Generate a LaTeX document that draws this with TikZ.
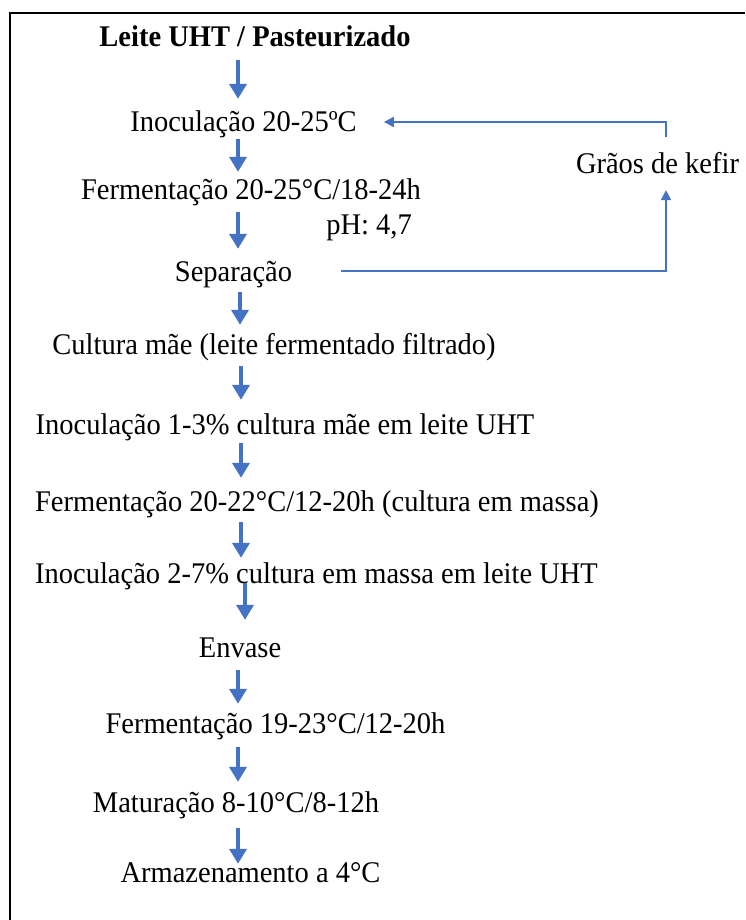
\documentclass[tikz,border=0pt]{standalone}
\usepackage{fontspec}
\setmainfont{Liberation Serif}[FakeStretch=0.95]
\usetikzlibrary{arrows.meta}
\definecolor{flowblue}{HTML}{4472C4}
\tikzset{
  stage/.style={inner sep=0pt,text height=20pt,text depth=0pt,font=\fontsize{30}{36}\selectfont},
  flow/.style={draw=flowblue,line width=4pt,-{Triangle[length=15pt,width=17pt]}},
  back/.style={draw=flowblue,line width=2pt,-{Triangle[length=10pt,width=10pt]}}
}

\begin{document}
\begin{tikzpicture}[x=1pt,y=-1pt]
  \useasboundingbox (0,0) rectangle (745,920);
  \draw[line width=2.5pt] (10,920) |- (745,13);

  % main line
  \node[stage] (milk) at (255,37) {\bfseries Leite UHT / Pasteurizado};
  \node[stage] (inoc1) at (243.5,122) {Inoculação 20-25ºC};
  \node[stage] (ferm1) at (251,190) {Fermentação 20-25°C/18-24h};
  \node[stage] (ph) at (369,224.5) {pH: 4,7};
  \node[stage] (sep) at (233.5,271) {Separação};
  \node[stage] (kefir) at (657.5,164) {Grãos de kefir};
  \node[stage] (mother) at (274,344) {Cultura mãe (leite fermentado filtrado)};
  \node[stage] (inoc2) at (285,424) {Inoculação 1-3\% cultura mãe em leite UHT};
  \node[stage] (ferm2) at (317,501) {Fermentação 20-22°C/12-20h (cultura em massa)};
  \node[stage] (inoc3) at (316.5,573) {Inoculação 2-7\% cultura em massa em leite UHT};
  \node[stage] (pack) at (240,647) {Envase};
  \node[stage] (ferm3) at (275.5,723) {Fermentação 19-23°C/12-20h};
  \node[stage] (ripe) at (236,802) {Maturação 8-10°C/8-12h};
  \node[stage] (store) at (250.5,872) {Armazenamento a 4°C};

  \foreach \a/\b/\c/\s/\e in {milk/inoc1/238/13/13, inoc1/ferm1/238/7/8,
      ferm1/sep/238/12/12, sep/mother/240/11/9, mother/inoc2/241/12/14,
      inoc2/ferm2/241/9/13, ferm2/inoc3/241/11/5, inoc3/pack/245/0/17,
      pack/ferm3/238/13/9, ferm3/ripe/238/14/10, ripe/store/238/16/-2}{
    \coordinate (col) at (\c,0);
    \draw[flow,shorten <=\s pt,shorten >=\e pt] (\a.south -| col) -- (\b.north -| col);
  }

  % kefir grains loop
  \coordinate (kcol) at (666,0);
  \draw[back,shorten >=16pt] ([xshift=49pt]sep.east) -| (kefir.south -| kcol);
  \draw[back,shorten <=17pt] (kefir.north -| kcol) |- ([xshift=27pt]inoc1.east);
\end{tikzpicture}
\end{document}
